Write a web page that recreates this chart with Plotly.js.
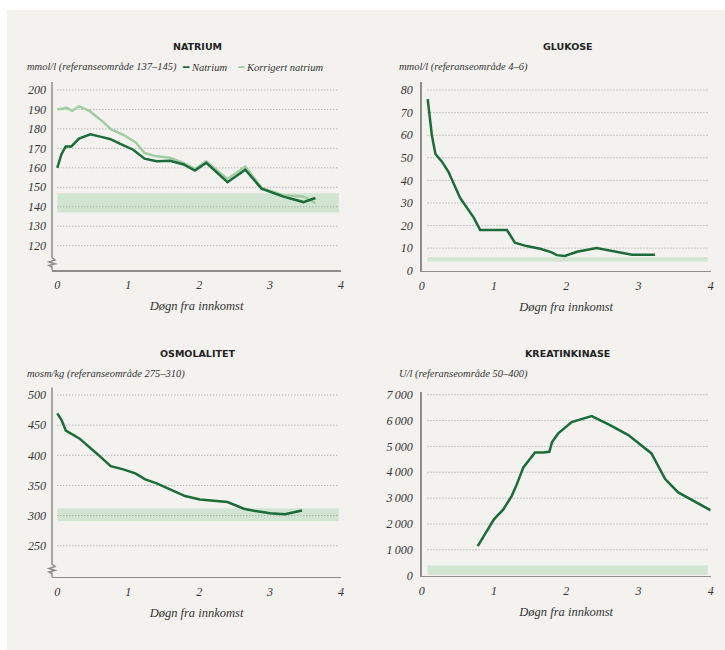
<!DOCTYPE html>
<html>
<head>
<meta charset="utf-8">
<script src="https://cdn.plot.ly/plotly-3.0.1.min.js"></script>
<style>html,body{margin:0;padding:0;background:#fff;}#chart{width:725px;height:650px;}</style>
</head>
<body>
<div id="chart"></div>
<script>
// ---------- DATA ----------
const natriumDays = [0,0.057,0.118,0.198,0.306,0.466,0.62,0.75,0.88,1.07,1.23,1.4,1.59,1.78,1.94,2.1,2.4,2.65,2.88,3.19,3.47,3.64];
const natriumValues = [160,166.9,171,171,175,177.2,175.9,174.7,172.4,169.3,164.7,163.4,163.6,161.7,158.6,162.6,152.6,159,149.3,145.2,142.4,144.5];
const korrDays = [0,0.057,0.127,0.21,0.306,0.457,0.645,0.76,0.93,1.11,1.23,1.4,1.59,1.78,1.94,2.1,2.4,2.65,2.88,3.19,3.47,3.64];
const korrValues = [190.2,190.2,190.9,189.3,191.6,189.1,183.6,179.7,177,172.9,167.6,165.9,165.2,162.6,159.5,163.3,154.3,160.7,149.7,145.9,145.3,141.9];
const natriumRef = [137,147];
const natriumTicks = [120,130,140,150,160,170,180,190,200];

const glukoseDays = [0.083,0.14,0.19,0.28,0.37,0.53,0.72,0.81,1.18,1.29,1.45,1.64,1.80,1.87,1.98,2.15,2.42,2.70,2.91,3.23];
const glukoseValues = [76,60.1,51.7,48.3,43.8,32.3,23.5,18,18,12.4,10.9,9.7,8.1,6.9,6.5,8.4,10,8.4,7.1,7.1];
const glukoseRef = [4,6];
const glukoseTicks = [0,10,20,30,40,50,60,70,80];

const osmDays = [0,0.06,0.12,0.31,0.555,0.753,0.93,1.1,1.24,1.4,1.59,1.8,2.01,2.2,2.4,2.63,2.77,3.0,3.21,3.45];
const osmValues = [469.5,458.4,440.8,428,403.1,382,376.6,370,360,353.4,343.4,332.4,326.8,324.6,322.4,311.3,308,304,302.3,308.4];
const osmRef = [291,312];
const osmTicks = [250,300,350,400,450,500];

const ckDays = [0.775,0.877,1.0,1.13,1.245,1.315,1.407,1.476,1.569,1.684,1.767,1.804,1.89,1.96,2.076,2.353,2.607,2.86,3.18,3.37,3.55,4.0];
const ckValues = [1147,1637,2178,2565,3080,3531,4188,4433,4768,4768,4794,5168,5503,5670,5940,6173,5825,5438,4729,3737,3222,2526];
const ckRef = [40,390];
const ckTicks = [0,1000,2000,3000,4000,5000,6000,7000];
const ckTickText = ['0','1\u2009000','2\u2009000','3\u2009000','4\u2009000','5\u2009000','6\u2009000','7\u2009000'];

const dayTicks = [0,1,2,3,4];
const panelTitles = ['NATRIUM','GLUKOSE','OSMOLALITET','KREATINKINASE'];
const unitLabels = ['mmol/l (referanseområde 137–145)','mmol/l (referanseområde 4–6)','mosm/kg (referanseområde 275–310)','U/l (referanseområde 50–400)'];
const xTitle = 'Døgn fra innkomst';
const seriesNames = ['Natrium','Korrigert natrium'];

// ---------- STYLE ----------
const W = 725, H = 650;
const DARK = '#1c6b3a', LIGHT = '#a2cda3', BAND = '#d1e5d2', BG = '#f3f2ef';
const AXC = '#8c8c8c', GRID = '#9a9a9a';
const SERIF = "'Liberation Serif', 'DejaVu Serif', serif";
const px = x => x / W;
const py = y => 1 - y / H;

function xaxisDef(domL, domR, range, anchor) {
  return {
    domain: [px(domL), px(domR)], range: range, anchor: anchor,
    tickvals: dayTicks, ticktext: dayTicks.map(t => '<i>' + t + '</i>'),
    showgrid: false, zeroline: false, showline: true, linecolor: AXC, linewidth: 1.5,
    ticks: '', ticklabelstandoff: 3,
    tickfont: {family: SERIF, size: 12, color: '#333'},
    title: {text: '<i>' + xTitle + '</i>', font: {family: SERIF, size: 12.5, color: '#333'}, standoff: 10},
    fixedrange: true
  };
}
function yaxisDef(top, bottom, range, ticks, text, anchor, showline) {
  const tt = (text || ticks.map(String)).map(t => '<i>' + t + '</i>');
  return {
    domain: [py(bottom), py(top)], range: range, anchor: anchor,
    tickvals: ticks, ticktext: tt,
    showgrid: false, zeroline: false, showline: showline, linecolor: AXC, linewidth: 1.5,
    ticks: '', ticklabelstandoff: 5,
    tickfont: {family: SERIF, size: 12, color: '#333'},
    fixedrange: true
  };
}

const traces = [
  {x: korrDays, y: korrValues, xaxis: 'x', yaxis: 'y', type: 'scatter', mode: 'lines', name: seriesNames[1], line: {color: LIGHT, width: 2.5}, showlegend: false},
  {x: natriumDays, y: natriumValues, xaxis: 'x', yaxis: 'y', type: 'scatter', mode: 'lines', name: seriesNames[0], line: {color: DARK, width: 2.5}, showlegend: false},
  {x: glukoseDays, y: glukoseValues, xaxis: 'x2', yaxis: 'y2', type: 'scatter', mode: 'lines', name: 'Glukose', line: {color: DARK, width: 2.5}, showlegend: false},
  {x: osmDays, y: osmValues, xaxis: 'x3', yaxis: 'y3', type: 'scatter', mode: 'lines', name: 'Osmolalitet', line: {color: DARK, width: 2.5}, showlegend: false},
  {x: ckDays, y: ckValues, xaxis: 'x4', yaxis: 'y4', type: 'scatter', mode: 'lines', name: 'Kreatinkinase', line: {color: DARK, width: 2.5}, showlegend: false}
];

const shapes = [];
shapes.push({type: 'rect', xref: 'paper', yref: 'paper', x0: px(7), x1: 1, y0: 0, y1: py(10), fillcolor: BG, line: {width: 0}, layer: 'below'});

function bandAndGrid(xa, ya, x0, x1, ref, ticks, skipZero) {
  shapes.push({type: 'rect', xref: xa, yref: ya, x0: x0, x1: x1, y0: ref[0], y1: ref[1], fillcolor: BAND, line: {width: 0}, layer: 'below'});
  ticks.forEach(t => {
    if (skipZero && t === 0) return;
    shapes.push({type: 'line', xref: xa, yref: ya, x0: x0, x1: x1, y0: t, y1: t, line: {color: GRID, width: 1, dash: '1px,2px'}, layer: 'below'});
  });
}
bandAndGrid('x', 'y', 0, 3.97, natriumRef, natriumTicks, false);
bandAndGrid('x2', 'y2', 0.08, 3.96, glukoseRef, glukoseTicks, true);
bandAndGrid('x3', 'y3', 0, 3.97, osmRef, osmTicks, false);
bandAndGrid('x4', 'y4', 0.08, 3.96, ckRef, ckTicks, true);

function brokenAxis(xAx, top, bottom, zTop) {
  const p = (x, y) => px(x).toFixed(5) + ',' + py(y).toFixed(5);
  const d = 'M' + p(xAx, top) + ' L' + p(xAx, zTop) + ' L' + p(xAx + 3, zTop + 2.5) + ' L' + p(xAx - 3, zTop + 4.5) +
    ' L' + p(xAx + 3, zTop + 6.5) + ' L' + p(xAx - 3, zTop + 8) + ' L' + p(xAx, zTop + 9.5) + ' L' + p(xAx, bottom);
  shapes.push({type: 'path', xref: 'paper', yref: 'paper', path: d, line: {color: AXC, width: 1.5}, layer: 'above'});
}
brokenAxis(52, 82, 270, 257.5);
brokenAxis(52, 387.5, 577, 564);

const ann = [];
const titlePos = [[197, 47], [567.5, 47], [197, 353], [567.5, 353]];
panelTitles.forEach((t, i) => {
  ann.push({xref: 'paper', yref: 'paper', x: px(titlePos[i][0]), y: py(titlePos[i][1]), text: '<b>' + t + '</b>', showarrow: false,
    xanchor: 'center', yanchor: 'middle', font: {family: "'DejaVu Sans', sans-serif", size: 9.5, color: '#222'}});
});
const UNIT_SIZE = 10.5;
const unitPos = [[25, 67], [397, 67], [25, 373.5], [397, 373.5]];
unitLabels.forEach((t, i) => {
  ann.push({xref: 'paper', yref: 'paper', x: px(unitPos[i][0]), y: py(unitPos[i][1]), text: '<i>' + t + '</i>', showarrow: false,
    xanchor: 'left', yanchor: 'middle', font: {family: SERIF, size: UNIT_SIZE, color: '#333'}});
});
ann.push({xref: 'paper', yref: 'paper', x: px(180), y: py(67), showarrow: false, xanchor: 'left', yanchor: 'middle',
  text: '<span style="color:' + DARK + '"><b>━</b></span> <i>' + seriesNames[0] + '</i>', font: {family: SERIF, size: UNIT_SIZE, color: '#333'}});
ann.push({xref: 'paper', yref: 'paper', x: px(235), y: py(67), showarrow: false, xanchor: 'left', yanchor: 'middle',
  text: '<span style="color:' + LIGHT + '"><b>━</b></span> <i>' + seriesNames[1] + '</i>', font: {family: SERIF, size: UNIT_SIZE, color: '#333'}});

const layout = {
  width: W, height: H,
  margin: {l: 0, r: 0, t: 0, b: 0},
  paper_bgcolor: '#ffffff', plot_bgcolor: 'rgba(0,0,0,0)',
  showlegend: false,
  xaxis: xaxisDef(52, 341, [-0.075, 4], 'y'),
  yaxis: yaxisDef(82, 270, [107.5, 204.1], natriumTicks, null, 'x', false),
  xaxis2: xaxisDef(421.7, 710.7, [0, 4], 'y2'),
  yaxis2: yaxisDef(81.7, 270.7, [0, 83.7], glukoseTicks, null, 'x2', true),
  xaxis3: xaxisDef(52, 341, [-0.075, 4], 'y3'),
  yaxis3: yaxisDef(387.3, 576.7, [198.6, 512.8], osmTicks, null, 'x3', false),
  xaxis4: xaxisDef(421.7, 710.7, [0, 4], 'y4'),
  yaxis4: yaxisDef(391.7, 575.7, [0, 7116], ckTicks, ckTickText, 'x4', true),
  shapes: shapes,
  annotations: ann
};

Plotly.newPlot('chart', traces, layout, {displayModeBar: false, staticPlot: true});
</script>
</body>
</html>
